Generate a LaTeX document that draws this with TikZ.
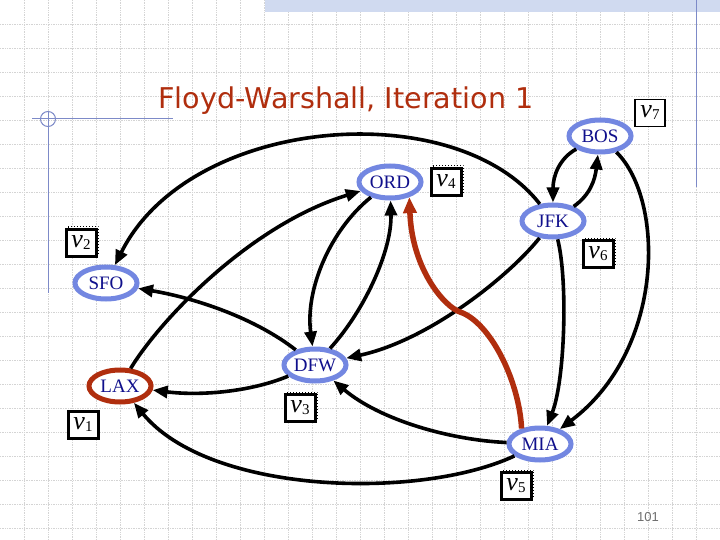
\documentclass[tikz,border=0pt]{standalone}
\usepackage{fontspec}
\setmainfont{Liberation Serif}
\newfontfamily\titlefont{DejaVu Sans}
\newfontfamily\pagefont{Liberation Sans}
\usetikzlibrary{arrows.meta,shapes.geometric,shadows}
\definecolor{titlered}{RGB}{176,46,14}
\definecolor{nodeblue}{RGB}{115,135,225}
\definecolor{navy}{RGB}{16,16,140}
\definecolor{gridgray}{RGB}{212,212,212}
\definecolor{framebl}{RGB}{125,138,200}
\definecolor{bandbl}{RGB}{208,218,240}
\newcommand{\vlab}[1]{\textit{v}\raisebox{-2pt}{\fontsize{15}{15}\selectfont #1}}
\begin{document}
\begin{tikzpicture}[x=1pt,y=-1pt,
  gridline/.style={draw=gridgray, densely dotted, line width=0.7pt},
  frameline/.style={draw=framebl, line width=1pt},
  city/.style={ellipse, draw=nodeblue, line width=5pt, fill=white,
    minimum width=62pt, minimum height=32pt, inner sep=0pt,
    text=navy, font=\fontsize{19}{19}\selectfont},
  hotcity/.style={city, draw=titlered},
  vbox/.style={draw=black, line width=3pt, fill=white, minimum width=30pt,
    minimum height=27pt, inner sep=0pt, font=\fontsize{26}{26}\selectfont},
  vboxthin/.style={vbox, line width=1.3pt},
  vboxsh/.style={vbox, general shadow={draw=black, fill=none, dotted,
    line width=1pt, shadow xshift=2.5pt, shadow yshift=2.5pt}},
  edgearrow/.style={draw=black, line width=3.6pt,
    -{Triangle[length=15pt,width=12pt]}},
  hotedge/.style={draw=titlered, line width=5.5pt,
    -{Triangle[length=16pt,width=13pt]}},
]
\useasboundingbox (0,0) rectangle (720,540);
\fill[white] (0,0) rectangle (720,540);
% background grid
\foreach \gx in {24,48,...,712} \draw[gridline] (\gx,0) -- (\gx,540);
\foreach \gy in {24,48,...,532} \draw[gridline] (0,\gy) -- (720,\gy);
% slide decoration
\fill[bandbl] (265,0) rectangle (720,12.5);
\draw[frameline] (696,0) -- (696,187);
\draw[frameline] (32,119) -- (173,119);
\draw[frameline] (48,111) -- (48,293);
\draw[frameline] (48,119) circle[radius=7.5];
% title
\node[anchor=base, text=titlered, font=\titlefont\fontsize{28.6}{30}\selectfont]
  (title) at (346,109) {Floyd-Warshall, Iteration 1};
% cities
\node[city] (BOS) at (600,136) {BOS};
\node[city] (ORD) at (390,182) {ORD};
\node[city] (JFK) at (553,221) {JFK};
\node[city] (SFO) at (106,283) {SFO};
\node[hotcity] (LAX) at (120,386) {LAX};
\node[city] (DFW) at (315,365) {DFW};
\node[city] (MIA) at (540,444) {MIA};
% vertex labels
\node[vboxthin] (v7) at (650,113) {\vlab{7}};
\node[vboxsh] (v4) at (446,182) {\vlab{4}};
\node[vboxsh] (v6) at (598,254) {\vlab{6}};
\node[vboxsh] (v2) at (81,243) {\vlab{2}};
\node[vbox] (v1) at (83,425) {\vlab{1}};
\node[vboxsh] (v3) at (300,408) {\vlab{3}};
\node[vboxsh] (v5) at (516,486) {\vlab{5}};
% edges
\draw[edgearrow] (JFK) .. controls (455,95) and (190,115) .. (SFO);
\draw[edgearrow] (BOS) .. controls (560,158) and (553,175) .. (JFK);
\draw[edgearrow] (JFK) .. controls (590,195) and (595,180) .. (BOS);
\draw[edgearrow] (BOS) .. controls (665,200) and (665,350) .. (MIA);
\draw[edgearrow] (JFK) .. controls (568,280) and (565,380) .. (MIA);
\draw[edgearrow] (JFK) .. controls (510,275) and (430,340) .. (DFW);
\draw[edgearrow] (ORD) .. controls (330,230) and (305,290) .. (DFW);
\draw[edgearrow] (DFW) .. controls (365,310) and (392,250) .. (ORD);
\draw[edgearrow] (LAX) .. controls (160,320) and (250,225) .. (ORD);
\draw[edgearrow] (DFW) .. controls (255,318) and (195,298) .. (SFO);
\draw[edgearrow] (DFW) .. controls (250,392) and (200,396) .. (LAX);
\draw[edgearrow] (MIA) .. controls (450,440) and (380,420) .. (DFW);
\draw[edgearrow] (MIA) .. controls (420,500) and (210,495) .. (LAX);
\draw[hotedge] (MIA.140) .. controls (519,380) and (490,322) .. (460,312)
  .. controls (445,307) and (412,270) .. (ORD.-38);
% page number
\node[text={rgb,255:red,110;green,110;blue,110}, font=\pagefont\fontsize{13}{13}\selectfont]
  (pagenum) at (648,517) {101};
\end{tikzpicture}
\end{document}
